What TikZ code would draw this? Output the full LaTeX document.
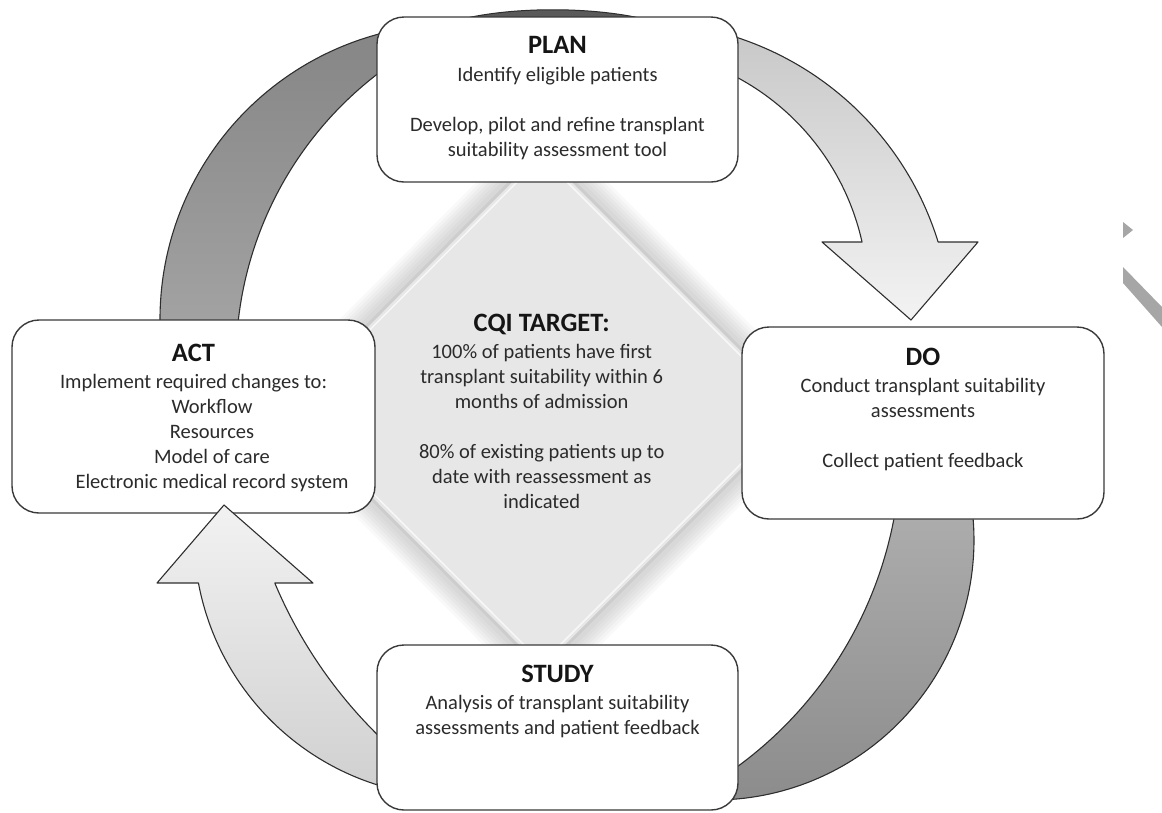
\documentclass[tikz,border=0pt]{standalone}
\usepackage{fontspec}
\setmainfont{Carlito}
\definecolor{boxline}{HTML}{3A3A3A}
\definecolor{arcline}{HTML}{2E2E2E}
\definecolor{txt}{HTML}{2B2B2B}
\definecolor{ttl}{HTML}{151515}
\definecolor{dfill}{HTML}{E7E7E7}
\definecolor{dedge}{HTML}{CDCDCD}
\definecolor{darkTop}{HTML}{858585}
\definecolor{darkBot}{HTML}{A5A5A5}
\definecolor{lightTop}{HTML}{C8C8C8}
\definecolor{lightBot}{HTML}{F3F3F3}
\definecolor{midTop}{HTML}{AEAEAE}
\definecolor{midBot}{HTML}{8C8C8C}
\definecolor{saTop}{HTML}{F2F2F2}
\definecolor{saBot}{HTML}{D0D0D0}
\definecolor{sliver}{HTML}{5A5A5A}
\definecolor{stray}{HTML}{A6A6A6}
\tikzset{
  stagebox/.style={draw=boxline, line width=1.4pt, fill=white, rounded corners=27pt, inner sep=0pt},
  stagetext/.style={align=center, inner sep=0pt, outer sep=0pt, anchor=north, text=txt, font=\fontsize{20.5}{25}\selectfont},
  ringarc/.style={draw=arcline, line width=1.1pt, line join=round},
}
\newcommand{\stagetitle}{\color{ttl}\bfseries\fontsize{26.5}{25}\selectfont}
\begin{document}
\begin{tikzpicture}[x=1pt,y=-1pt]
\useasboundingbox (0,0) rectangle (1162,812);
% ---------- central diamond ----------
\coordinate (dT) at (542,150);
\coordinate (dR) at (802,410);
\coordinate (dB) at (542,670);
\coordinate (dL) at (283,410);
\foreach \w in {48,42,36,30,24,18,12} {
  \draw[line width=\w pt, color=black, opacity=0.022, line join=miter] (dT)--(dR)--(dB)--(dL)--cycle;
}
\fill[dfill] (dT)--(dR)--(dB)--(dL)--cycle;
\draw[dedge, line width=3pt, line join=miter] (dT)--(dR)--(dB)--(dL)--cycle;
\draw[white, opacity=0.7, line width=1.5pt, line join=miter] (542,157)--(795,410)--(542,663)--(290,410)--cycle;
% ---------- thin dark band behind the PLAN box ----------
\path[fill=sliver, draw=arcline, line width=1pt] (445,24) .. controls (500,5) and (605,5) .. (662,24) -- cycle;
% ---------- ACT -> PLAN arc (dark) ----------
\path[ringarc, top color=darkTop, bottom color=darkBot]
  plot[domain=186:91, samples=70, variable=\t] ({455+295*cos(\t)}, {319-295*sin(\t)})
  -- plot[domain=114:177.5, samples=70, variable=\t] ({598+362*cos(\t)}, {361-362*sin(\t)})
  -- cycle;
% ---------- PLAN -> DO arc (light, with head) ----------
\path[ringarc, top color=lightTop, bottom color=lightBot]
  plot[domain=76:17.15, samples=70, variable=\t] ({640+312*cos(\t)}, {334-312*sin(\t)})
  -- (978,242) -- (911,320) -- (822,242)
  -- plot[domain=12.57:67.5, samples=70, variable=\t] ({620+248*cos(\t)}, {296-248*sin(\t)})
  -- cycle;
% ---------- DO -> STUDY arc (mid gray) ----------
\path[ringarc, top color=midTop, bottom color=midBot]
  plot[domain=8.85:-88.7, samples=70, variable=\t] ({714+260*cos(\t)}, {540-260*sin(\t)})
  -- plot[domain=-56.8:-8.05, samples=70, variable=\t] ({501+400*cos(\t)}, {444-400*sin(\t)})
  -- cycle;
% ---------- boxes ----------
\node[stagebox, minimum width=363pt, minimum height=193pt] (act) at (193.5,416.5) {};
\node[stagebox, minimum width=361pt, minimum height=165pt] (plan) at (557.5,99.5) {};
\node[stagebox, minimum width=362pt, minimum height=192pt] (do) at (923,423) {};
% ---------- STUDY -> ACT arc (light, with head) ----------
\path[ringarc, top color=saTop, bottom color=saBot]
  plot[domain=256.5:190.56, samples=70, variable=\t] ({456+262*cos(\t)}, {535-262*sin(\t)})
  -- (157,583) -- (224,505) -- (313,583)
  -- plot[domain=202.83:228.3, samples=70, variable=\t] ({707+469*cos(\t)}, {401-469*sin(\t)})
  -- cycle;
\node[stagebox, minimum width=361pt, minimum height=165pt] (study) at (557.5,727.5) {};
% ---------- texts ----------
\node[stagetext] (plantext) at (557.5,36.4) {{\stagetitle PLAN}\\[2.5pt]
  Identify eligible patients\\[25pt]
  Develop, pilot and refine transplant\\
  suitability assessment tool};
\node[stagetext] (acttext) at (193.5,343.8) {{\stagetitle ACT}\\[2.5pt]
  Implement required changes to:\\
  \hspace*{37pt}Workflow\\
  \hspace*{37pt}Resources\\
  \hspace*{37pt}Model of care\\
  \hspace*{37pt}Electronic medical record system};
\node[stagetext] (dotext) at (923,348.1) {{\stagetitle DO}\\[2.5pt]
  Conduct transplant suitability\\
  assessments\\[25pt]
  Collect patient feedback};
\node[stagetext] (studytext) at (557.5,664.8) {{\stagetitle STUDY}\\[2.5pt]
  Analysis of transplant suitability\\
  assessments and patient feedback};
\node[stagetext] (cqitext) at (541.7,314.1) {{\stagetitle CQI TARGET:}\\[2.5pt]
  100\% of patients have first\\
  transplant suitability within 6\\
  months of admission\\[25pt]
  80\% of existing patients up to\\
  date with reassessment as\\
  indicated};
% ---------- stray fragments at right edge ----------
\fill[stray] (1123,222) -- (1133,230) -- (1123,238) -- cycle;
\fill[stray] (1123,267) -- (1162,307) -- (1162,327) -- (1123,283) -- cycle;
\end{tikzpicture}
\end{document}
